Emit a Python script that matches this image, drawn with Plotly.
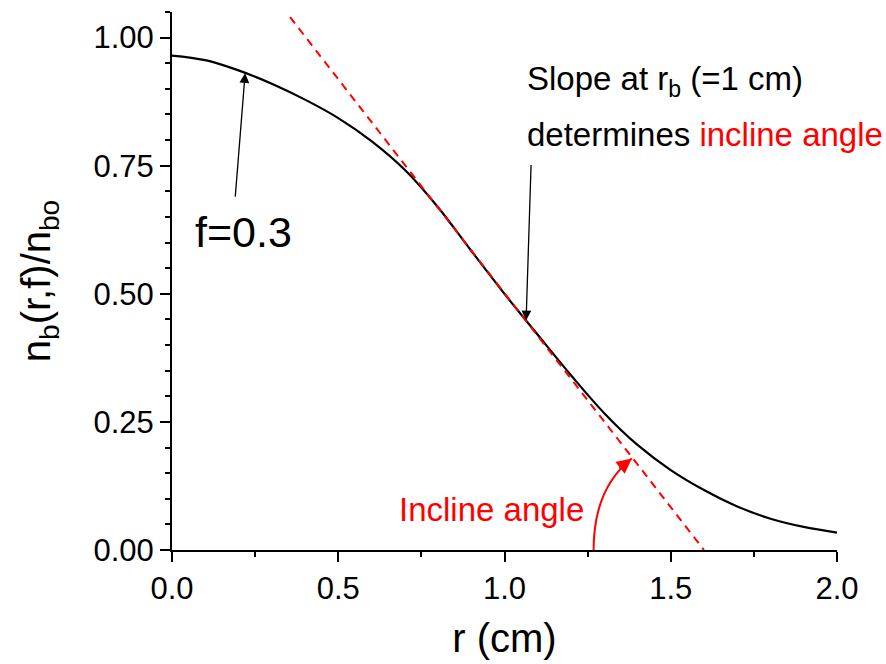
import numpy as np
import plotly.graph_objects as go

# Normalised beam density profile n_b(r,f)/n_bo for f = 0.3
r_cm = [0.0, 0.1, 0.2, 0.3, 0.4, 0.5, 0.6, 0.7, 0.8, 0.9, 1.0,
        1.1, 1.2, 1.3, 1.4, 1.5, 1.6, 1.7, 1.8, 1.9, 2.0]
n_ratio = [0.965, 0.956, 0.936, 0.910, 0.879, 0.843, 0.798, 0.742, 0.669, 0.584, 0.500,
           0.420, 0.341, 0.267, 0.205, 0.156, 0.117, 0.085, 0.061, 0.045, 0.034]

# Tangent to the profile at r_b = 1 cm (end points)
tangent_r = [0.355, 1.60]
tangent_v = [1.040, 0.0]

x_ticks = [0.0, 0.5, 1.0, 1.5, 2.0]
y_ticks = [0.0, 0.25, 0.50, 0.75, 1.00]

FONT = "Arial, 'Liberation Sans', sans-serif"
RED = "#ff0000"

fig = go.Figure()
fig.add_trace(go.Scatter(x=r_cm, y=n_ratio, mode="lines",
                         line=dict(color="black", width=2.2, shape="spline", smoothing=1.0),
                         showlegend=False, hoverinfo="skip"))
fig.add_trace(go.Scatter(x=tangent_r, y=tangent_v, mode="lines",
                         line=dict(color=RED, width=2, dash="8px,6px"),
                         showlegend=False, hoverinfo="skip"))

# arc marking the incline angle, drawn around where the tangent meets the axis
fig.add_shape(type="path", xref="x", yref="y",
              path="M 1.268,0 Q 1.268,0.12 1.383,0.1785",
              line=dict(color=RED, width=2))

annotations = [
    # f label and its arrow
    dict(x=0.063, y=0.62, xref="x", yref="y", text="f=0.3", showarrow=False,
         xanchor="left", yanchor="middle", font=dict(family=FONT, size=43, color="black")),
    dict(x=0.22, y=float(np.interp(0.22, r_cm, n_ratio)), xref="x", yref="y", text="",
         showarrow=True, arrowhead=2, arrowsize=1.5, arrowwidth=1.3, arrowcolor="black",
         ax=-10, ay=125, standoff=0),
    # slope note
    dict(x=1.063, y=0.915, xref="x", yref="y", text="Slope at r<sub>b</sub> (=1 cm)",
         showarrow=False, xanchor="left", yanchor="middle",
         font=dict(family=FONT, size=33, color="black")),
    dict(x=1.063, y=0.81, xref="x", yref="y",
         text="determines <span style='color:#ff0000'>incline angle</span>",
         showarrow=False, xanchor="left", yanchor="middle",
         font=dict(family=FONT, size=33, color="black")),
    dict(x=1.065, y=float(np.interp(1.065, r_cm, n_ratio)), xref="x", yref="y", text="",
         showarrow=True, arrowhead=2, arrowsize=1.5, arrowwidth=1.3, arrowcolor="black",
         ax=5, ay=-157, standoff=0),
    # incline angle label and arrow head on the arc
    dict(x=0.676, y=0.08, xref="x", yref="y", text="Incline angle", showarrow=False,
         xanchor="left", yanchor="middle", font=dict(family=FONT, size=33, color=RED)),
    dict(x=1.383, y=0.1785, xref="x", yref="y", text="", showarrow=True,
         arrowhead=2, arrowsize=1.5, arrowwidth=2, arrowcolor=RED,
         ax=-14, ay=11, standoff=0),
]

fig.update_layout(
    width=886, height=664,
    margin=dict(l=172, r=49, t=12, b=114),
    plot_bgcolor="white", paper_bgcolor="white",
    font=dict(family=FONT, color="black"),
    annotations=annotations,
    xaxis=dict(range=[0, 2.0], tickvals=x_ticks, tickformat=".1f",
               showline=True, linecolor="black", linewidth=2,
               ticks="outside", ticklen=10, tickwidth=2, tickcolor="black",
               minor=dict(dtick=0.25, tick0=0, ticks="outside", ticklen=5, tickwidth=2,
                          tickcolor="black", showgrid=False),
               showgrid=False, zeroline=False, automargin=False,
               tickfont=dict(family=FONT, size=31),
               title=dict(text="r (cm)", font=dict(family=FONT, size=40), standoff=19)),
    yaxis=dict(range=[0, 1.05], tickvals=y_ticks, tickformat=".2f",
               showline=True, linecolor="black", linewidth=2,
               ticks="outside", ticklen=10, tickwidth=2, tickcolor="black",
               minor=dict(dtick=0.05, tick0=0, ticks="outside", ticklen=5, tickwidth=2,
                          tickcolor="black", showgrid=False),
               showgrid=False, zeroline=False, automargin=False,
               tickfont=dict(family=FONT, size=31),
               title=dict(text="n<sub>b</sub>(r,f)/n<sub>bo</sub>",
                          font=dict(family=FONT, size=40), standoff=30)),
)

fig.write_html("out.html")
